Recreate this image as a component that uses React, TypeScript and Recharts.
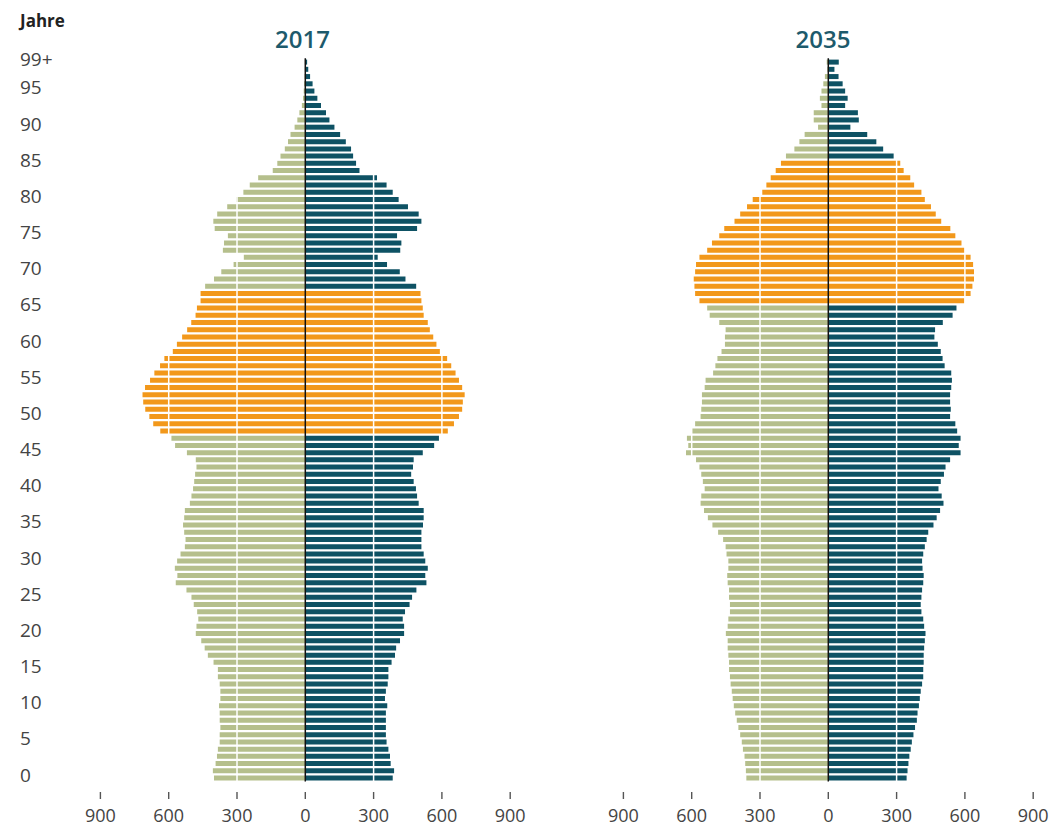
import { BarChart, Bar, XAxis, YAxis, Cell, ReferenceLine } from 'recharts';

// Bevölkerung nach Alter (Tausend), Index = Alter 0 … 99+
const maenner2017 = [
  401, 406, 394, 388, 384, 376, 376, 373, 376, 376,
  379, 373, 373, 376, 384, 384, 403, 428, 442, 457,
  481, 478, 470, 475, 490, 500, 522, 569, 562, 573,
  563, 548, 529, 526, 532, 537, 532, 529, 507, 500,
  493, 488, 484, 478, 481, 520, 572, 588, 637, 668,
  685, 703, 712, 715, 704, 682, 663, 638, 619, 582,
  564, 541, 519, 501, 482, 476, 460, 460, 440, 401,
  369, 315, 270, 362, 357, 340, 398, 404, 387, 343,
  303, 272, 244, 207, 143, 123, 109, 90, 76, 65,
  47, 35, 26, 15, 10, 7, 5, 3, 2, 2,
];
const frauen2017 = [
  384, 390, 375, 372, 365, 357, 354, 354, 354, 354,
  360, 350, 354, 362, 365, 365, 379, 394, 399, 416,
  434, 434, 428, 438, 458, 469, 488, 532, 527, 538,
  527, 520, 510, 510, 510, 517, 520, 520, 498, 491,
  486, 476, 465, 473, 476, 516, 566, 587, 626, 653,
  675, 689, 692, 700, 689, 675, 660, 641, 623, 591,
  576, 562, 547, 538, 520, 516, 510, 506, 487, 440,
  415, 359, 318, 417, 422, 403, 491, 510, 498, 451,
  410, 384, 357, 315, 238, 223, 210, 201, 178, 153,
  128, 106, 91, 69, 53, 40, 32, 21, 13, 8,
];
const maenner2035 = [
  360, 362, 365, 368, 375, 380, 387, 395, 402, 409,
  415, 420, 424, 429, 432, 436, 436, 439, 442, 442,
  450, 442, 439, 432, 432, 436, 436, 442, 444, 439,
  439, 447, 451, 462, 484, 509, 529, 546, 561, 558,
  543, 551, 558, 566, 581, 625, 615, 621, 603, 585,
  561, 558, 555, 555, 543, 539, 506, 496, 487, 469,
  454, 454, 451, 479, 521, 532, 566, 585, 588, 591,
  585, 581, 566, 532, 511, 479, 457, 412, 387, 357,
  332, 290, 272, 253, 231, 208, 186, 149, 127, 104,
  45, 64, 64, 30, 37, 30, 22, 15, 4, 7,
];
const frauen2035 = [
  344, 348, 352, 356, 362, 367, 374, 381, 389, 392,
  398, 402, 406, 412, 417, 417, 419, 419, 421, 424,
  427, 421, 417, 409, 406, 409, 412, 417, 419, 414,
  412, 417, 424, 432, 439, 462, 476, 491, 506, 498,
  484, 494, 508, 515, 535, 581, 573, 581, 566, 558,
  535, 538, 535, 535, 540, 543, 540, 511, 502, 494,
  481, 466, 469, 503, 546, 563, 599, 625, 633, 640,
  640, 636, 625, 600, 585, 558, 536, 496, 472, 451,
  424, 409, 377, 360, 331, 316, 287, 241, 211, 171,
  97, 134, 130, 74, 85, 74, 63, 45, 27, 46,
];

// Jahrgänge 1950–1969 (orange hervorgehoben)
const boomer2017 = [48, 67];
const boomer2035 = [66, 85];

const xTicks = [-900, -600, -300, 0, 300, 600, 900];
const ageTicks = [0, 5, 10, 15, 20, 25, 30, 35, 40, 45, 50, 55, 60, 65, 70, 75, 80, 85, 90, 95, 99];

const GREEN = '#b5bf8c';
const TEAL = '#0e5264';
const ORANGE = '#f2981b';
const FONT = '"Open Sans", "DejaVu Sans", sans-serif';

const AgeTick = ({ y, payload }: any) => {
  const age = Number(payload.value);
  if (!ageTicks.includes(age)) return null;
  return (
    <text x={20} y={y - 3} dy="0.35em" textAnchor="start" fill="#444" fontSize={19} fontFamily={FONT}>
      {age === 99 ? '99+' : age}
    </text>
  );
};

const ValueTick = ({ x, payload }: any) => (
  <g>
    <line x1={x} x2={x} y1={792} y2={799} stroke="#555" strokeWidth={1.4} />
    <text x={x} y={822} textAnchor="middle" fill="#444" fontSize={18} fontFamily={FONT}>
      {Math.abs(payload.value)}
    </text>
  </g>
);

function Pyramid({ left, right, boomer, showAges, width, marginLeft }: any) {
  const data = left.map((v: number, i: number) => ({ age: i, left: -v, right: right[i] }));
  const inBoomer = (a: number) => a >= boomer[0] && a <= boomer[1];
  return (
    <BarChart
      width={width}
      height={830}
      data={data}
      layout="vertical"
      stackOffset="sign"
      barCategoryGap="18%"
      margin={{ top: 58.3, right: 19.8, bottom: 8.5, left: marginLeft }}
    >
      <XAxis
        type="number"
        domain={[-900, 900]}
        ticks={xTicks}
        axisLine={false}
        tickLine={false}
        height={40}
        tick={<ValueTick />}
        interval={0}
      />
      <YAxis
        type="category"
        dataKey="age"
        reversed
        hide={!showAges}
        width={80}
        axisLine={false}
        tickLine={false}
        interval={0}
        tick={<AgeTick />}
      />
      <Bar dataKey="left" stackId="a" isAnimationActive={false}>
        {data.map((d: any) => (
          <Cell key={`l-${d.age}`} fill={inBoomer(d.age) ? ORANGE : GREEN} />
        ))}
      </Bar>
      <Bar dataKey="right" stackId="a" isAnimationActive={false}>
        {data.map((d: any) => (
          <Cell key={`r-${d.age}`} fill={inBoomer(d.age) ? ORANGE : TEAL} />
        ))}
      </Bar>
      <ReferenceLine x={-600} stroke="#fff" strokeWidth={1.5} />
      <ReferenceLine x={-300} stroke="#fff" strokeWidth={1.5} />
      <ReferenceLine x={300} stroke="#fff" strokeWidth={1.5} />
      <ReferenceLine x={600} stroke="#fff" strokeWidth={1.5} />
      <ReferenceLine x={0} stroke="#111" strokeWidth={1.5} />
    </BarChart>
  );
}

const titleStyle: any = {
  position: 'absolute',
  top: 24,
  width: 100,
  textAlign: 'center',
  fontFamily: FONT,
  fontSize: 24,
  fontWeight: 600,
  color: '#1d5a6c',
  lineHeight: '30px',
};

export default function App() {
  return (
    <div style={{ position: 'absolute', left: 0, top: 0, width: 1053, height: 830, background: '#fff', fontFamily: FONT }}>
      <div style={{ position: 'absolute', left: 20, top: 9, fontSize: 17, fontWeight: 700, color: '#222', lineHeight: '24px' }}>
        Jahre
      </div>
      <div style={{ ...titleStyle, left: 252.5 }}>2017</div>
      <div style={{ ...titleStyle, left: 773 }}>2035</div>
      <div style={{ position: 'absolute', left: 0, top: 0 }}>
        <Pyramid left={maenner2017} right={frauen2017} boomer={boomer2017} showAges width={530} marginLeft={20.4} />
      </div>
      <div style={{ position: 'absolute', left: 530, top: 0 }}>
        <Pyramid left={maenner2035} right={frauen2035} boomer={boomer2035} showAges={false} width={523} marginLeft={93.4} />
      </div>
    </div>
  );
}
